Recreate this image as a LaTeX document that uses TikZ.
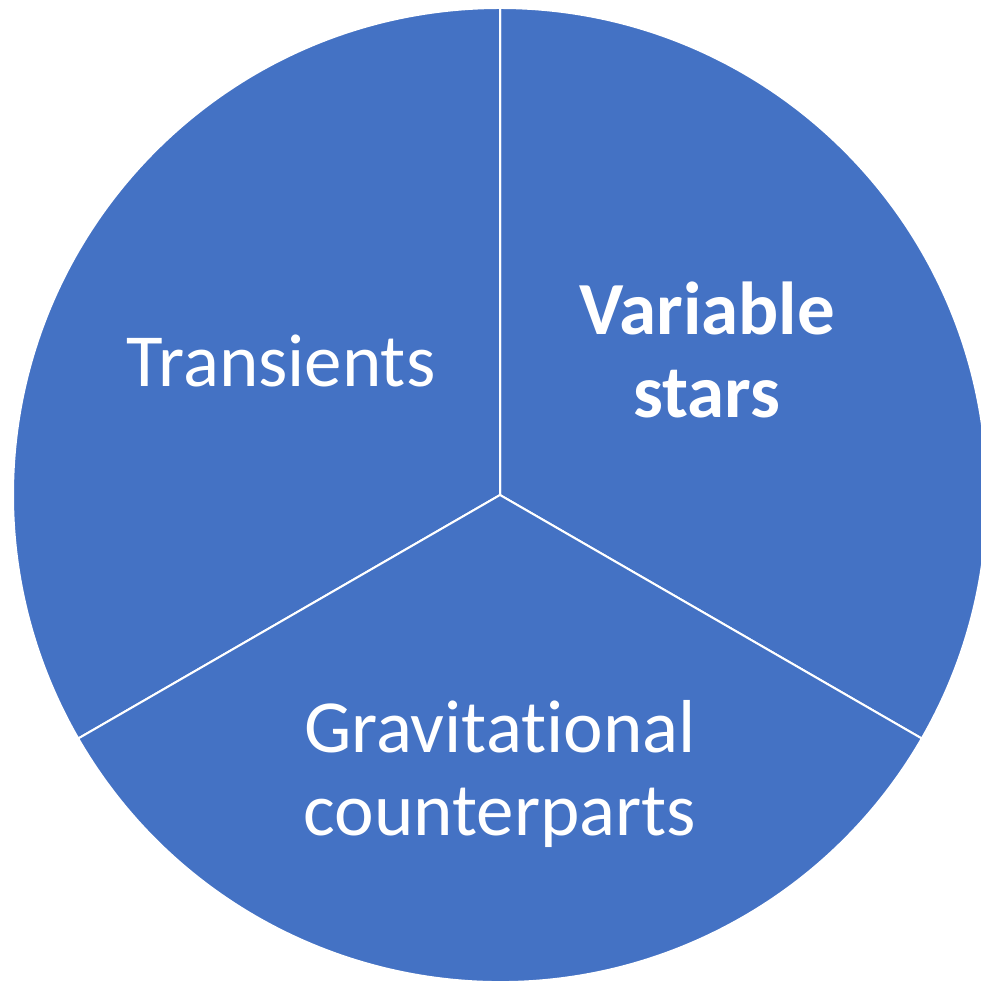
\documentclass[tikz,border=0pt]{standalone}
\usepackage{fontspec}
\setmainfont[Ligatures={NoCommon,NoRare,NoContextual}]{Carlito}
\definecolor{pieblue}{HTML}{4472C4}
\begin{document}
\begin{tikzpicture}[x=1pt,y=1pt,
  sector/.style={fill=pieblue,draw=white,line width=2pt,line join=round},
  lbl/.style={text=white,font=\fontsize{75}{83}\selectfont,align=center,inner sep=0pt}]
\useasboundingbox (0,0) rectangle (981,980);
\clip (0,0) rectangle (981,980);
\coordinate (c) at (500,485);
\fill[pieblue] (c) circle (487);
\draw[sector] (c) -- ++(90:487) arc (90:-30:487) -- cycle;
\draw[sector] (c) -- ++(90:487) arc (90:210:487) -- cycle;
\draw[sector] (c) -- ++(210:487) arc (210:330:487) -- cycle;
\node[lbl] (t) at (281,619) {Transients};
\node[lbl,font=\fontsize{75}{83}\selectfont\bfseries] (v) at (707,630) {Variable\\stars};
\node[lbl] (g) at (500,206) {Gravitational\\counterparts};
\end{tikzpicture}
\end{document}
